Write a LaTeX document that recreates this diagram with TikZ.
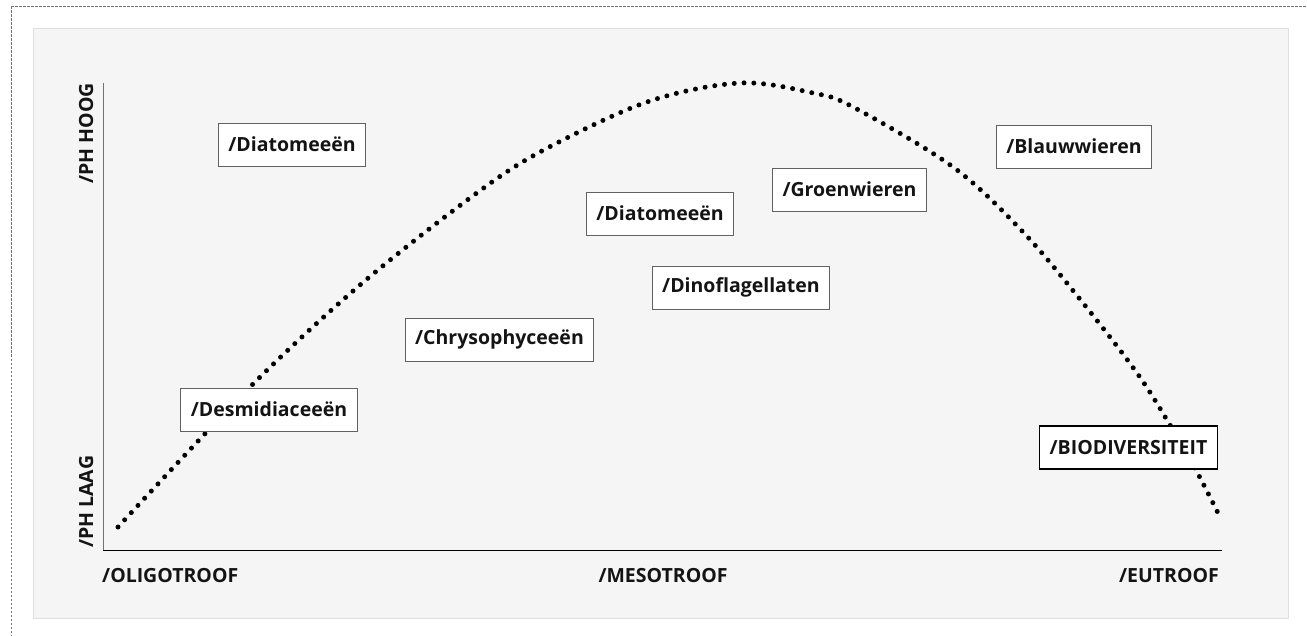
\documentclass[tikz,border=0pt]{standalone}
\usepackage{fontspec}
\setmainfont{Open Sans}
\usetikzlibrary{positioning}
\colorlet{panelFill}{black!4}
\colorlet{panelDraw}{black!12}
\colorlet{frameGray}{black!55}
\colorlet{boxGray}{black!62}
\colorlet{axisGray}{black!55}
\colorlet{inkBlack}{black!92}
\tikzset{
  % boxes with the algae groups
  groupbox/.style={
    draw=boxGray,
    fill=white,
    line width=0.9pt,
    minimum height=43pt,
    inner xsep=10pt,
    font=\bfseries\fontsize{19.5}{22}\selectfont,
    text=inkBlack
  },
  keybox/.style={
    groupbox,
    draw=black,
    line width=1.4pt
  },
  axislabel/.style={
    inner sep=0pt,
    font=\bfseries\fontsize{19.5}{22}\selectfont,
    text=inkBlack
  },
  dotcurve/.style={
    line width=5pt,
    line cap=round,
    dash pattern=on 0pt off 9.8pt,
    draw=black
  },
  frameline/.style={
    draw=frameGray,
    line width=0.9pt,
    dash pattern=on 2.5pt off 1.5pt
  }
}

\begin{document}
\begin{tikzpicture}[x=1pt,y=-1pt]
\useasboundingbox (0,0) rectangle (1307,636);

% outer frame and panel
\draw[frameline] (11,6.5) -- (1307,6.5);
\draw[frameline] (11,6.5) -- (11,636);
\draw[draw=panelDraw, fill=panelFill, line width=1pt] (33,29) rectangle (1288,618);

% axes
\draw[axisGray, line width=1.3pt] (103.5,83) -- (103.5,550);
\draw[black, line width=1pt] (103,550) -- (1222,550);

\node[axislabel, anchor=base west] (oligo) at (102,582) {/OLIGOTROOF};
\node[axislabel, anchor=base] (meso) at (663,582) {/MESOTROOF};
\node[axislabel, anchor=base east] (eu) at (1219,582) {/EUTROOF};
\node[axislabel, rotate=90, anchor=base east] (phhigh) at (93,83) {/PH HOOG};
\node[axislabel, rotate=90, anchor=base west] (phlow) at (93,548) {/PH LAAG};

% biodiversity curve
\draw[dotcurve] plot[smooth, tension=0.55] coordinates {
  (118,527) (250,387) (360,285) (470,198) (540,152) (647,102) (740,83)
  (813,93) (853,107) (953,167) (1023,232) (1083,303) (1137,373)
  (1170,425) (1197,472) (1221,519)};

% groups
\node[groupbox] (diat1) at (292,144.5) {/Diatomeeën};
\node[groupbox] (desmi) at (269,409.5) {/Desmidiaceeën};
\node[groupbox] (chryso) at (499.5,339.5) {/Chrysophyceeën};
\node[groupbox] (diat2) at (660,213.5) {/Diatomeeën};
\node[groupbox] (groen) at (849.5,189.5) {/Groenwieren};
\node[groupbox] (blauw) at (1074,146.5) {/Blauwwieren};
\node[groupbox] (dino) at (741,287.5) {/Dinoflagellaten};
\node[keybox] (bio) at (1128.5,447.5) {/BIODIVERSITEIT};

\end{tikzpicture}
\end{document}
